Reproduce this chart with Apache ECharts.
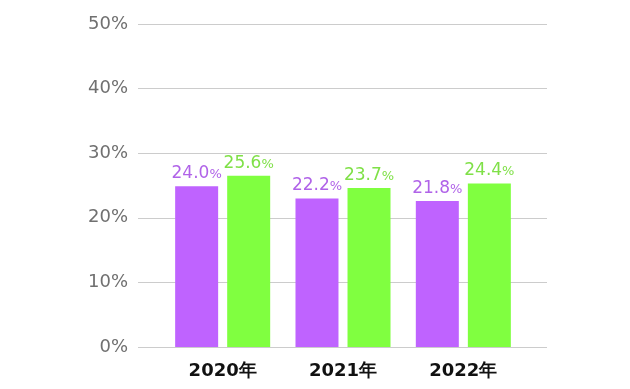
<!DOCTYPE html>
<html>
<head>
<meta charset="utf-8">
<script src="https://cdn.jsdelivr.net/npm/echarts@6/dist/echarts.min.js"></script>
<style>
html,body{margin:0;padding:0;background:#fff;}
#chart{width:630px;height:389px;}
</style>
</head>
<body>
<div id="chart"></div>
<script>
const categories = ['2020年', '2021年', '2022年'];
// bar heights as drawn in the picture
const purpleValues = [24.9, 23.0, 22.6];
const greenValues = [26.5, 24.6, 25.3];
// value label texts as printed in the picture
const purpleLabels = ['24.0', '22.2', '21.8'];
const greenLabels = ['25.6', '23.7', '24.4'];
const yTicks = [0, 10, 20, 30, 40, 50];

const purpleBar = '#bf63ff';
const greenBar = '#80ff40';
const purpleText = '#b063e8';
const greenText = '#7fe047';

function labelOpt(texts, color) {
  return {
    show: true,
    position: 'top',
    distance: 4,
    formatter: p => '{n|' + texts[p.dataIndex] + '}{p|%}',
    rich: {
      n: { fontFamily: 'DejaVu Sans', fontSize: 17, color: color },
      p: { fontFamily: 'DejaVu Sans', fontSize: 13, color: color, padding: [2, 0, 0, 0] }
    }
  };
}

const chart = echarts.init(document.getElementById('chart'), null, { renderer: 'canvas' });
chart.setOption({
  animation: false,
  backgroundColor: '#ffffff',
  grid: [
    { left: 138, right: 83, top: 24, bottom: 42 },
    { left: 162.5, right: 106.5, top: 24, bottom: 42 }
  ],
  xAxis: [
    { type: 'category', gridIndex: 0, data: categories, show: false },
    {
      type: 'category', gridIndex: 1, data: categories,
      axisLine: { show: false }, axisTick: { show: false },
      axisLabel: { margin: 15, fontFamily: 'DejaVu Sans', fontWeight: 'bold', fontSize: 18, color: '#111' }
    }
  ],
  yAxis: [
    {
      type: 'value', gridIndex: 0, min: yTicks[0], max: yTicks[yTicks.length - 1], interval: 10,
      axisLine: { show: false }, axisTick: { show: false },
      splitLine: { lineStyle: { color: '#cccccc', width: 1 } },
      axisLabel: { margin: 10, fontFamily: 'DejaVu Sans', fontSize: 18, color: '#707070', formatter: v => v + '%' }
    },
    {
      type: 'value', gridIndex: 1, min: yTicks[0], max: yTicks[yTicks.length - 1], interval: 10,
      show: false, splitLine: { show: false }
    }
  ],
  series: [
    {
      type: 'bar', xAxisIndex: 1, yAxisIndex: 1, data: purpleValues,
      barWidth: 43, barGap: '21%',
      itemStyle: { color: purpleBar },
      label: labelOpt(purpleLabels, purpleText)
    },
    {
      type: 'bar', xAxisIndex: 1, yAxisIndex: 1, data: greenValues,
      barWidth: 43, barGap: '21%',
      itemStyle: { color: greenBar },
      label: labelOpt(greenLabels, greenText)
    }
  ]
});
</script>
</body>
</html>
